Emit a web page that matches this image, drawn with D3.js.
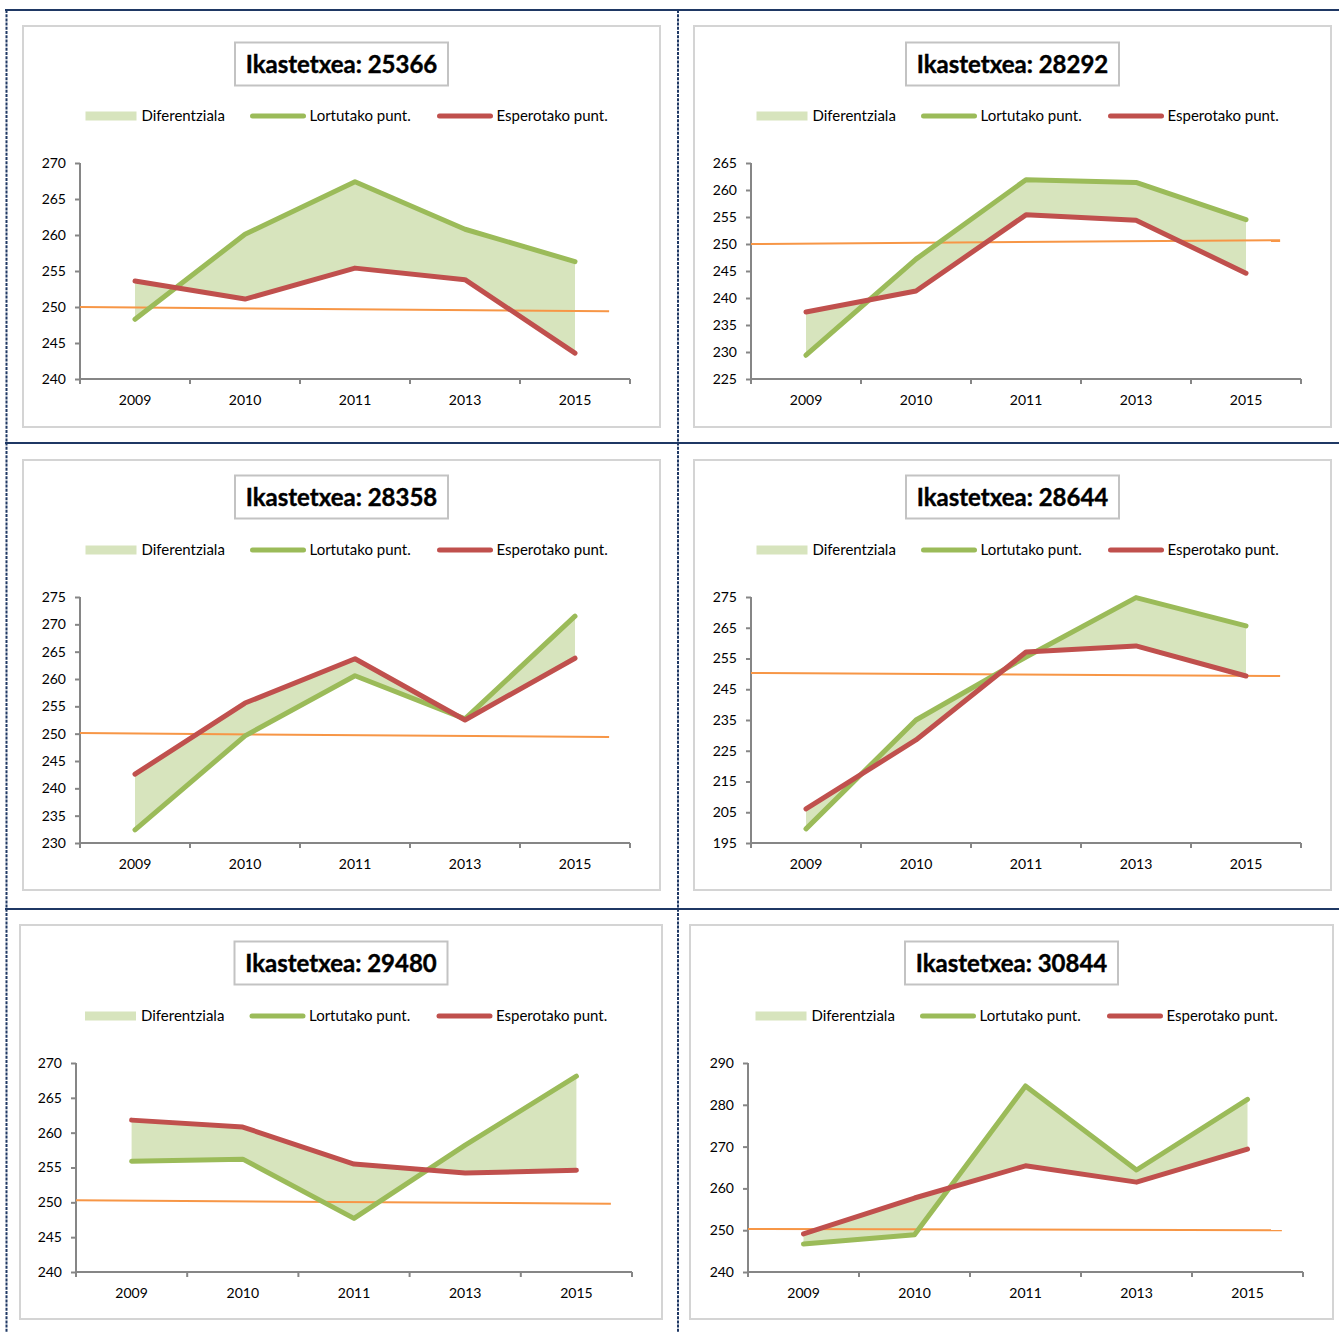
<!DOCTYPE html>
<html>
<head>
<meta charset="utf-8">
<script src="https://cdn.jsdelivr.net/npm/d3@7/dist/d3.min.js"></script>
<style>
  html, body { margin: 0; padding: 0; background: #ffffff; }
  svg { display: block; }
  text { font-family: Lato, "Open Sans", sans-serif; fill: #000; }
</style>
</head>
<body>
<svg id="chart" width="1339" height="1333"></svg>
<script>
// School codes, one chart per school
const schools = ["25366", "28292", "28358", "28644", "29480", "30844"];
const years = ["2009", "2010", "2011", "2013", "2015"];

// Obtained scores (Lortutako punt.)
const lortutako = [
  [248.3, 260.1, 267.4, 260.8, 256.3],
  [229.4, 247.2, 261.9, 261.4, 254.5],
  [232.4, 249.6, 260.6, 252.7, 271.5],
  [199.6, 235.0, 255.5, 274.8, 265.6],
  [255.9, 256.2, 247.7, 258.2, 268.1],
  [246.7, 248.9, 284.5, 264.4, 281.3]
];

// Expected scores (Esperotako punt.)
const esperotako = [
  [253.6, 251.1, 255.4, 253.8, 243.6],
  [237.4, 241.3, 255.4, 254.4, 244.6],
  [242.6, 255.6, 263.7, 252.5, 263.8],
  [206.1, 228.5, 257.1, 259.1, 249.3],
  [261.8, 260.8, 255.5, 254.2, 254.6],
  [249.1, 257.7, 265.4, 261.5, 269.4]
];

// Reference line (start value, end value)
const erreferentziaHasiera = [250.0, 250.0, 250.1, 250.3, 250.3, 250.3];
const erreferentziaAmaiera = [249.4, 250.7, 249.4, 249.3, 249.8, 250.0];

// Value axis ranges and tick steps
const yMin  = [240, 225, 230, 195, 240, 240];
const yMax  = [270, 265, 275, 275, 270, 290];
const yStep = [5, 5, 5, 10, 5, 10];

const legendLabels = ["Diferentziala", "Lortutako punt.", "Esperotako punt."];
const titlePrefix = "Ikastetxea: ";

// Colours
const cGreen = "#9bbb59", cRed = "#c0504d", cFill = "#d7e4bd", cOrange = "#f79646";
const cAxis = "#868686", cFrame = "#d4d4d4", cRule = "#1f3864";

// Panel geometry
const panels = [
  { bx: 23,  by: 26,  bw: 637, bh: 401, ax: 80,  ar: 630,  pt: 163,  pb: 379,  ty: 64,  ly: 116 },
  { bx: 694, by: 26,  bw: 637, bh: 401, ax: 751, ar: 1301, pt: 163,  pb: 379,  ty: 64,  ly: 116 },
  { bx: 23,  by: 460, bw: 637, bh: 430, ax: 80,  ar: 630,  pt: 597,  pb: 843,  ty: 497, ly: 550 },
  { bx: 694, by: 460, bw: 637, bh: 430, ax: 751, ar: 1301, pt: 597,  pb: 843,  ty: 497, ly: 550 },
  { bx: 20,  by: 925, bw: 642, bh: 394, ax: 76,  ar: 632,  pt: 1063, pb: 1272, ty: 963, ly: 1016 },
  { bx: 690, by: 925, bw: 643, bh: 394, ax: 748, ar: 1303, pt: 1063, pb: 1272, ty: 963, ly: 1016 }
];

const svg = d3.select("#chart");

// Page rules separating the charts
const rules = svg.append("g");
[10, 443, 909].forEach(y => {
  rules.append("line").attr("x1", 5).attr("x2", 1339).attr("y1", y).attr("y2", y)
    .attr("stroke", cRule).attr("stroke-width", 2);
});
[6.5, 678].forEach(x => {
  rules.append("line").attr("x1", x).attr("x2", x).attr("y1", 10).attr("y2", 1333)
    .attr("stroke", cRule).attr("stroke-width", 2).attr("stroke-dasharray", "3,1.2");
});

panels.forEach((p, i) => {
  const g = svg.append("g");
  const cx = p.bx + p.bw / 2;

  // Chart frame
  g.append("rect").attr("x", p.bx).attr("y", p.by).attr("width", p.bw).attr("height", p.bh)
    .attr("fill", "#fff").attr("stroke", cFrame).attr("stroke-width", 2);

  // Title box
  const tw = 213, th = 43;
  g.append("rect").attr("x", cx - tw / 2).attr("y", p.ty - th / 2).attr("width", tw).attr("height", th)
    .attr("fill", "#fff").attr("stroke", "#c3c3c3").attr("stroke-width", 2);
  g.append("text").attr("x", cx).attr("y", p.ty).attr("dy", "0.36em")
    .attr("text-anchor", "middle").attr("font-size", 24).attr("font-weight", 700)
    .attr("stroke", "#000").attr("stroke-width", 0.4)
    .text(titlePrefix + schools[i]);

  // Legend
  const lg = g.append("g").attr("font-size", 15);
  const lx = [cx - 256, cx - 91, cx + 96];
  lg.append("rect").attr("x", lx[0]).attr("y", p.ly - 4.5).attr("width", 51).attr("height", 9).attr("fill", cFill);
  lg.append("line").attr("x1", lx[1] + 2).attr("x2", lx[1] + 53).attr("y1", p.ly).attr("y2", p.ly)
    .attr("stroke", cGreen).attr("stroke-width", 5).attr("stroke-linecap", "round");
  lg.append("line").attr("x1", lx[2] + 2).attr("x2", lx[2] + 53).attr("y1", p.ly).attr("y2", p.ly)
    .attr("stroke", cRed).attr("stroke-width", 5).attr("stroke-linecap", "round");
  [56, 59, 59].forEach((off, k) => {
    lg.append("text").attr("x", lx[k] + off).attr("y", p.ly).attr("dy", "0.35em").text(legendLabels[k]);
  });

  // Scales
  const x = d3.scaleBand().domain(years).range([p.ax, p.ar]);
  const xr = d3.scaleLinear().domain([0, years.length]).range([p.ax, p.ar]);
  const y = d3.scaleLinear().domain([yMin[i], yMax[i]]).range([p.pb, p.pt]);
  const xc = d => x(d) + x.bandwidth() / 2;

  const rows = years.map((yr, k) => ({ yr, lo: lortutako[i][k], es: esperotako[i][k] }));

  // Difference area between expected and obtained
  g.append("path").datum(rows)
    .attr("fill", cFill)
    .attr("d", d3.area().x(d => xc(d.yr)).y0(d => y(d.es)).y1(d => y(d.lo)));

  // Axes
  const yTicks = d3.range(yMin[i], yMax[i] + 0.001, yStep[i]);
  const yAxis = g.append("g").attr("transform", `translate(${p.ax},0)`)
    .call(d3.axisLeft(y).tickValues(yTicks).tickSize(5).tickPadding(9).tickFormat(d3.format("d")));
  const xAxis = g.append("g").attr("transform", `translate(0,${p.pb})`)
    .call(d3.axisBottom(x).tickSize(0).tickPadding(16));
  // category boundary ticks
  xAxis.selectAll(".edge").data(d3.range(years.length + 1)).enter().append("line")
    .attr("class", "edge").attr("x1", k => xr(k)).attr("x2", k => xr(k))
    .attr("y1", 0).attr("y2", 5).attr("stroke", cAxis).attr("stroke-width", 2);
  [yAxis, xAxis].forEach(a => {
    a.select(".domain").attr("stroke", cAxis).attr("stroke-width", 2);
    a.selectAll(".tick line").attr("stroke", cAxis).attr("stroke-width", 2);
    a.selectAll("text").attr("font-size", 14).attr("font-family", "Lato, sans-serif").attr("fill", "#000");
  });
  yAxis.select(".domain").attr("d", `M0,${p.pb}V${p.pt}`);
  xAxis.select(".domain").attr("d", `M${p.ax},0H${p.ar}`);

  // Reference line
  g.append("line")
    .attr("x1", xr(0)).attr("y1", y(erreferentziaHasiera[i]))
    .attr("x2", xr(4.81)).attr("y2", y(erreferentziaAmaiera[i]))
    .attr("stroke", cOrange).attr("stroke-width", 2);

  // Obtained and expected score lines
  const line = key => d3.line().x(d => xc(d.yr)).y(d => y(d[key]));
  g.append("path").datum(rows).attr("fill", "none").attr("stroke", cGreen).attr("stroke-width", 5)
    .attr("stroke-linejoin", "round").attr("stroke-linecap", "round").attr("d", line("lo"));
  g.append("path").datum(rows).attr("fill", "none").attr("stroke", cRed).attr("stroke-width", 5)
    .attr("stroke-linejoin", "round").attr("stroke-linecap", "round").attr("d", line("es"));
});
</script>
</body>
</html>
